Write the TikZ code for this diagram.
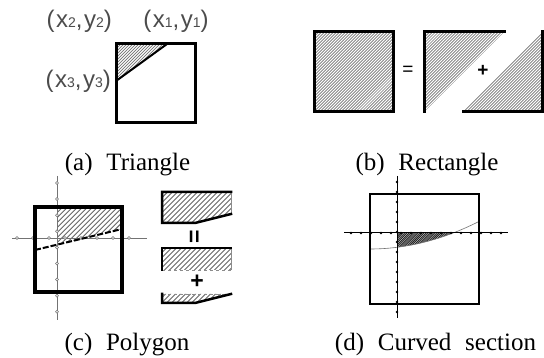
\documentclass[tikz,border=0pt]{standalone}
\usepackage{fontspec}
\setmainfont{Liberation Serif}
\newfontfamily\coordfamily{Liberation Sans}[LetterSpace=6]
\newfontfamily\symfamily{Liberation Sans}
\usetikzlibrary{positioning,calc}

\newcommand{\coordfont}{\coordfamily\fontsize{24}{26}\selectfont}
\newcommand{\symfont}{\symfamily\fontsize{19}{20}\selectfont}
\newcommand{\bigsymfont}{\symfamily\bfseries\fontsize{23}{24}\selectfont}
\newcommand{\captionfont}{\fontsize{25}{28}\selectfont}
\newcommand{\idx}[1]{{\fontsize{14}{14}\selectfont #1}}
\newcommand{\capgap}{\hspace{0.55em}}
% hatch a closed path with "/" lines: #1 path, #2 number of lines, #3 line style
\newcommand{\hatchregion}[3]{%
  \begin{scope}
    \clip #1;
    \foreach \k in {0,...,#2} {
      \draw[#3] ({-400+\k*(944/#2)},400) -- ++(400,-400);
    }
  \end{scope}}

\begin{document}
\begin{tikzpicture}[
    x=1pt, y=-1pt,
    frame/.style={draw=black, line width=3pt, line cap=rect},
    thinedge/.style={draw=black!45, line width=0.6pt},
    fineline/.style={draw=black!55, line width=0.7pt},
    wideline/.style={draw=black!60, line width=0.9pt},
    axis/.style={draw=black!55, line width=0.7pt},
    tickmark/.style={draw=black!55, fill=white, line width=0.5pt},
    corner/.style={font=\coordfont, text=black!70, inner sep=0pt},
    sym/.style={font=\symfont, inner sep=0pt},
    caption/.style={font=\captionfont, anchor=base, inner sep=0pt}
]
    \path[fill=white] (0,0) rectangle (544,358);
    \useasboundingbox (0,0) rectangle (544,358);

    % (a) triangle
    \coordinate (t2) at (116,44);
    \coordinate (t1) at (167,44);
    \coordinate (t3) at (116,81);
    \hatchregion{(t2) -- (t1) -- (t3) -- cycle}{315}{fineline}
    \draw[line width=2pt] (t1) -- (t3);
    \draw[frame] (116,44) rectangle (195,123);
    \node[corner, above left=11pt and 4pt of t2] (p2) {(x\idx{2},y\idx{2})};
    \node[corner, anchor=south] (p1) at (176,33) {(x\idx{1},y\idx{1})};
    \node[corner, left=5pt of t3] (p3) {(x\idx{3},y\idx{3})};

    % (b) rectangle
    \hatchregion{(314,32) rectangle (393,112)}{315}{fineline}
    \draw[frame] (314,32) rectangle (393,112);
    \node[sym] (eqb) at (408,71) {=};
    \hatchregion{(424,32) -- (504,32) -- (424,112) -- cycle}{315}{fineline}
    \draw[frame] (424,112) -- (424,32) -- (504,32);
    \node[sym, font=\symfont\bfseries] (plusb) at (483,71) {+};
    \hatchregion{(463,112) -- (542,112) -- (542,32) -- cycle}{315}{fineline}
    \draw[frame] (463,112) -- (542,112) -- (542,32);

    % (c) polygon
    \hatchregion{(57,207) -- (122,207) -- (122,229) -- (57,245) -- cycle}{189}{wideline}
    \draw[axis] (12,238) -- (147,238);
    \draw[axis] (57,176) -- (57,320);
    \foreach \k in {0,...,7}
        \draw[tickmark] ({17+16*\k},238) circle (1.5pt);
    \foreach \k in {0,...,8}
        \draw[tickmark] (57,{183+16.1*\k}) circle (1.5pt);
    \draw[line width=2pt, dash pattern=on 6pt off 2pt] (35,250) -- (122,229);
    \draw[frame, line width=4pt] (35,207) rectangle (122,292);

    \hatchregion{(162,192) -- (231,192) -- (231,214) -- (195,223) -- (162,223) -- cycle}{189}{wideline}
    \draw[thinedge] (231,192) -- (231,214);
    \draw[frame, line width=2.5pt] (231,192) -- (162,192) -- (162,223) -- (195,223) -- (231,214);
    \node[sym, font=\bigsymfont, rotate=90] (eqc) at (196,237) {=};
    \hatchregion{(162,248) rectangle (231,270)}{189}{wideline}
    \draw[thinedge] (231,248) -- (231,270);
    \draw[thinedge, dashed] (162,270) -- (231,270);
    \draw[frame, line width=2.5pt] (162,270) -- (162,248) -- (231,248);
    \node[sym, font=\bigsymfont] (plusc) at (197,282) {+};
    \hatchregion{(162,294) -- (231,294) -- (195,303) -- (162,303) -- cycle}{189}{wideline}
    \draw[thinedge, dashed] (162,294) -- (231,294);
    \draw[frame, line width=2.5pt] (162,294) -- (162,303) -- (195,303) -- (231,294);

    % (d) curved section
    \hatchregion{(397,233) -- (453,233)
        -- plot[domain=453:397, samples=20] (\x,{249-0.00232*(\x-370)^2}) -- cycle}{500}{draw=black!85, line width=0.9pt}
    \draw[black!55, line width=0.6pt, domain=370:478, samples=30]
        plot (\x,{249-0.00232*(\x-370)^2});
    \draw[line width=1pt] (344,233) -- (508,233);
    \draw[line width=1pt] (397,176) -- (397,318);
    \foreach \k in {0,...,15}
        \fill ({351+10*\k},233) circle (1.3pt);
    \foreach \k in {0,...,13}
        \fill (397,{182+10*\k}) circle (1.3pt);
    \draw[line width=2pt] (370,194) rectangle (479,304);

    % captions
    \node[caption] (capa) at (127.5,171) {(a)\capgap Triangle};
    \node[caption] (capb) at (427,171) {(b)\capgap Rectangle};
    \node[caption] (capc) at (127,350) {(c)\capgap Polygon};
    \node[caption] (capd) at (435.5,350) {(d)\capgap Curved\capgap section};
\end{tikzpicture}
\end{document}
